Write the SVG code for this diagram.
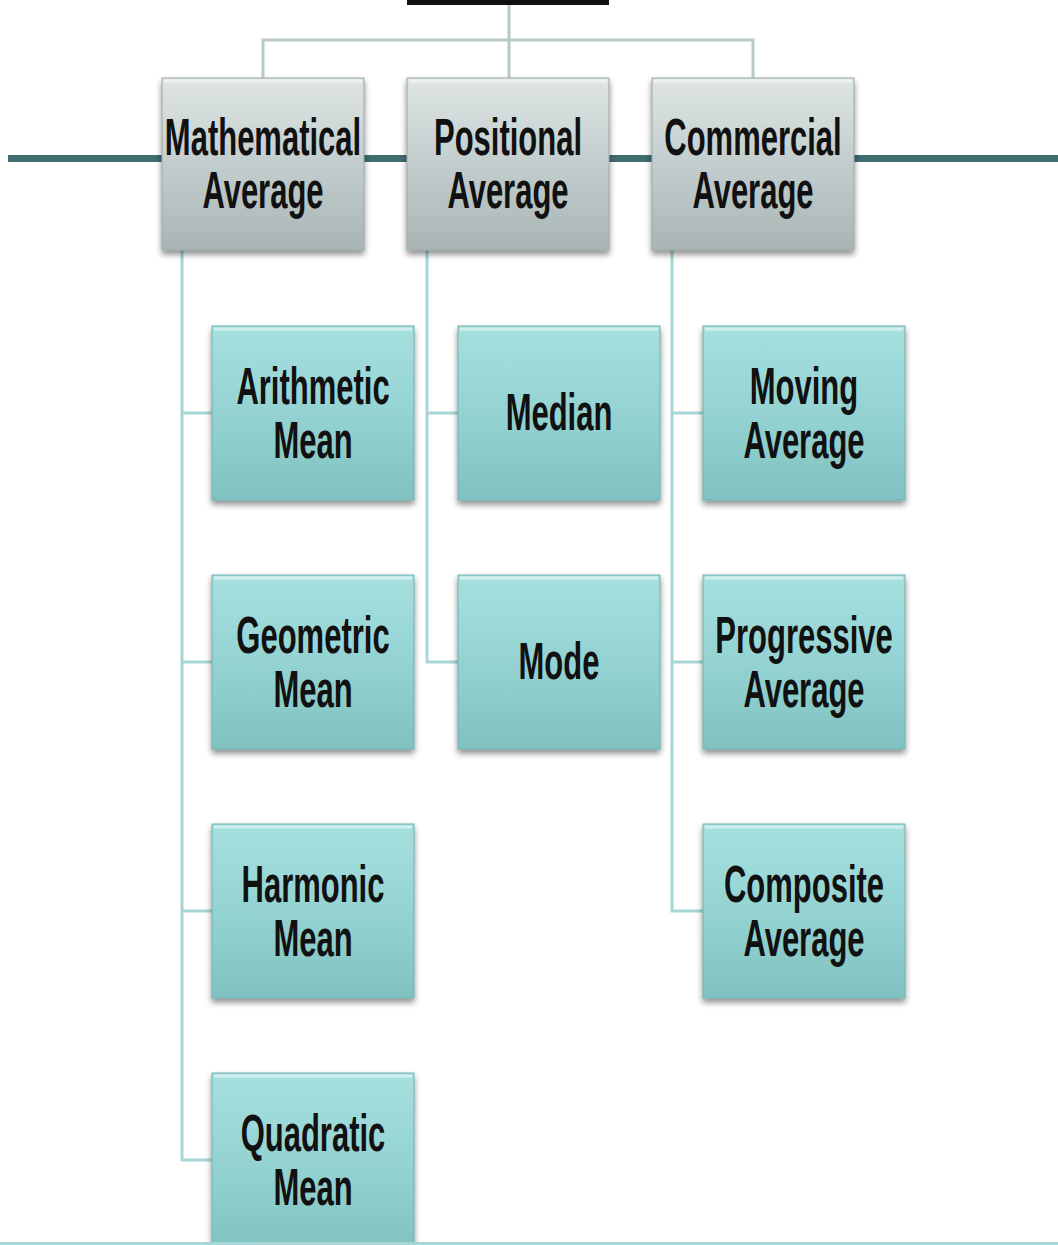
<svg xmlns="http://www.w3.org/2000/svg" width="1058" height="1245" viewBox="0 0 1058 1245">
<defs>
<linearGradient id="gGray" x1="0" y1="0" x2="0" y2="1">
<stop offset="0" stop-color="#dfe5e5"/>
<stop offset="0.5" stop-color="#c3cdcd"/>
<stop offset="1" stop-color="#a9b5b5"/>
</linearGradient>
<linearGradient id="gTeal" x1="0" y1="0" x2="0" y2="1">
<stop offset="0" stop-color="#a6e0df"/>
<stop offset="0.5" stop-color="#94d3d2"/>
<stop offset="1" stop-color="#80c2c1"/>
</linearGradient>
<filter id="sh" x="-10%" y="-10%" width="120%" height="125%">
<feGaussianBlur in="SourceAlpha" stdDeviation="3"/>
<feOffset dx="0" dy="4" result="b"/>
<feComponentTransfer><feFuncA type="linear" slope="0.45"/></feComponentTransfer>
<feMerge><feMergeNode/><feMergeNode in="SourceGraphic"/></feMerge>
</filter>
<style>
.gray{fill:url(#gGray);stroke:#9aa6a6;stroke-width:1;filter:url(#sh)}
.teal{fill:url(#gTeal);stroke:#6fb0af;stroke-width:1;filter:url(#sh)}
.hl{fill:none;stroke:#ffffff;stroke-opacity:0.5;stroke-width:3}
.lbl{font-family:"Liberation Sans",Arial,sans-serif;font-weight:bold;font-size:31px;fill:#111;text-anchor:middle}
.conT{fill:none;stroke:#b9c9c9;stroke-width:3}
.con{fill:none;stroke:#a6d6d5;stroke-width:3}
</style>
</defs>
<rect width="1058" height="1245" fill="#ffffff"/>
<rect x="407" y="0" width="202" height="5" fill="#111"/>
<rect x="8" y="155" width="1050" height="7" fill="#3f6d70"/>
<g id="connectors">
<path class="conT" d="M509 5V78 M263 78V40H753V78"/>
<path class="con" d="M182 250V1160H212 M182 413H212 M182 662H212 M182 911H212"/>
<path class="con" d="M427 250V662H458 M427 413H458"/>
<path class="con" d="M672 250V911H703 M672 413H703 M672 662H703"/>
</g>
<g id="mathematical">
<rect class="gray" x="162" y="78" width="202" height="172"/>
<path class="hl" d="M164 81H362"/>
<text class="lbl" transform="translate(263,155) scale(1,1.7)">Mathematical</text>
<text class="lbl" transform="translate(263,208) scale(1,1.7)">Average</text>
</g>
<g id="positional">
<rect class="gray" x="407" y="78" width="202" height="172"/>
<path class="hl" d="M409 81H607"/>
<text class="lbl" transform="translate(508,155) scale(1,1.7)">Positional</text>
<text class="lbl" transform="translate(508,208) scale(1,1.7)">Average</text>
</g>
<g id="commercial">
<rect class="gray" x="652" y="78" width="202" height="172"/>
<path class="hl" d="M654 81H852"/>
<text class="lbl" transform="translate(753,155) scale(1,1.7)">Commercial</text>
<text class="lbl" transform="translate(753,208) scale(1,1.7)">Average</text>
</g>
<g id="arithmetic">
<rect class="teal" x="212" y="326" width="202" height="174"/>
<path class="hl" d="M214 329H412"/>
<text class="lbl" transform="translate(313,404) scale(1,1.7)">Arithmetic</text>
<text class="lbl" transform="translate(313,458) scale(1,1.7)">Mean</text>
</g>
<g id="geometric">
<rect class="teal" x="212" y="575" width="202" height="174"/>
<path class="hl" d="M214 578H412"/>
<text class="lbl" transform="translate(313,653) scale(1,1.7)">Geometric</text>
<text class="lbl" transform="translate(313,707) scale(1,1.7)">Mean</text>
</g>
<g id="harmonic">
<rect class="teal" x="212" y="824" width="202" height="174"/>
<path class="hl" d="M214 827H412"/>
<text class="lbl" transform="translate(313,902) scale(1,1.7)">Harmonic</text>
<text class="lbl" transform="translate(313,956) scale(1,1.7)">Mean</text>
</g>
<g id="quadratic">
<rect class="teal" x="212" y="1073" width="202" height="180"/>
<path class="hl" d="M214 1076H412"/>
<text class="lbl" transform="translate(313,1151) scale(1,1.7)">Quadratic</text>
<text class="lbl" transform="translate(313,1205) scale(1,1.7)">Mean</text>
</g>
<g id="median">
<rect class="teal" x="458" y="326" width="202" height="174"/>
<path class="hl" d="M460 329H658"/>
<text class="lbl" transform="translate(559,430) scale(1,1.7)">Median</text>
</g>
<g id="mode">
<rect class="teal" x="458" y="575" width="202" height="174"/>
<path class="hl" d="M460 578H658"/>
<text class="lbl" transform="translate(559,679) scale(1,1.7)">Mode</text>
</g>
<g id="moving">
<rect class="teal" x="703" y="326" width="202" height="174"/>
<path class="hl" d="M705 329H903"/>
<text class="lbl" transform="translate(804,404) scale(1,1.7)">Moving</text>
<text class="lbl" transform="translate(804,458) scale(1,1.7)">Average</text>
</g>
<g id="progressive">
<rect class="teal" x="703" y="575" width="202" height="174"/>
<path class="hl" d="M705 578H903"/>
<text class="lbl" transform="translate(804,653) scale(1,1.7)">Progressive</text>
<text class="lbl" transform="translate(804,707) scale(1,1.7)">Average</text>
</g>
<g id="composite">
<rect class="teal" x="703" y="824" width="202" height="174"/>
<path class="hl" d="M705 827H903"/>
<text class="lbl" transform="translate(804,902) scale(1,1.7)">Composite</text>
<text class="lbl" transform="translate(804,956) scale(1,1.7)">Average</text>
</g>
<rect x="0" y="1242" width="1058" height="3" fill="#a6d6d5"/>
</svg>
